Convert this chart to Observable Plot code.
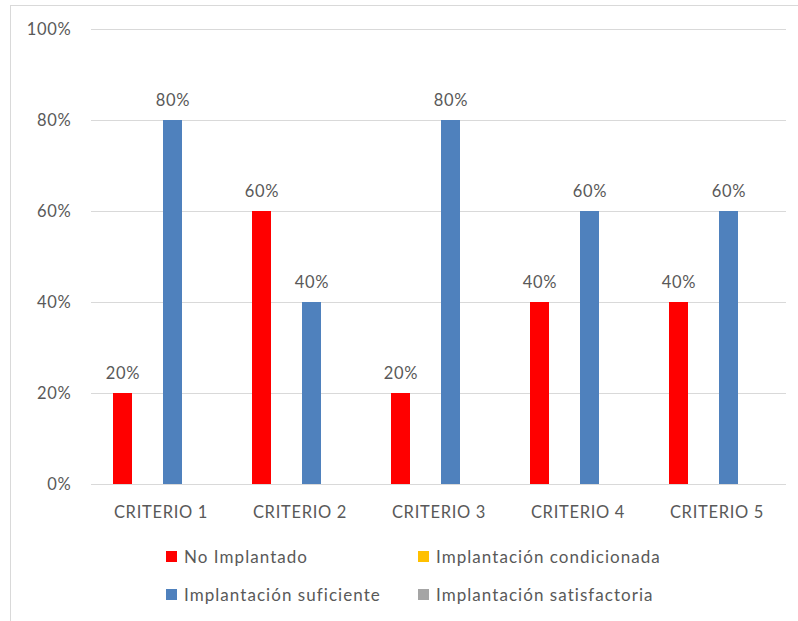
<!DOCTYPE html>
<html>
<head>
<meta charset="utf-8">
<script src="https://cdn.jsdelivr.net/npm/d3@7"></script>
<script src="https://cdn.jsdelivr.net/npm/@observablehq/plot@0.6"></script>
<style>
  html, body { margin: 0; padding: 0; background: #fff; }
  #wrap { position: relative; width: 798px; height: 621px; overflow: hidden; font-family: Lato, sans-serif; color: #595959; }
  #frame { position: absolute; left: 10px; top: 5px; width: 820px; height: 700px; border: 1px solid #d9d9d9; box-sizing: border-box; }
  #chart { position: absolute; left: 0; top: 0; }
  #legend { position: absolute; left: 166px; top: 544px; display: grid; grid-template-columns: 252px 260px; grid-auto-rows: 38px; font-size: 17px; letter-spacing: 1.05px; }
  .item { display: flex; align-items: center; height: 24px; white-space: nowrap; }
  .sw { width: 11px; height: 11px; margin-right: 7px; flex: none; }
</style>
</head>
<body>
<div id="wrap">
  <div id="frame"></div>
  <div id="chart"></div>
  <div id="legend"></div>
</div>
<script>
const categories = ["CRITERIO 1", "CRITERIO 2", "CRITERIO 3", "CRITERIO 4", "CRITERIO 5"];
const series = ["No Implantado", "Implantación condicionada", "Implantación suficiente", "Implantación satisfactoria"];
const noImplantado = [0.2, 0.6, 0.2, 0.4, 0.4];
const implantacionCondicionada = [0, 0, 0, 0, 0];
const implantacionSuficiente = [0.8, 0.4, 0.8, 0.6, 0.6];
const implantacionSatisfactoria = [0, 0, 0, 0, 0];
const seriesColors = ["#FF0000", "#FFC000", "#4F81BD", "#A5A5A5"];
const yTicks = [0, 0.2, 0.4, 0.6, 0.8, 1];

const seriesValues = [noImplantado, implantacionCondicionada, implantacionSuficiente, implantacionSatisfactoria];
const data = [];
categories.forEach((cat, i) => {
  series.forEach((s, j) => {
    data.push({cat, series: s, value: seriesValues[j][i]});
  });
});
const pct = d3.format(".0%");

const chart = Plot.plot({
  width: 798,
  height: 530,
  marginLeft: 90,
  marginRight: 12,
  marginTop: 29,
  marginBottom: 46,
  style: "font-family: Lato, sans-serif; font-size: 16.5px; letter-spacing: 0.7px; color: #595959; background: transparent; overflow: visible;",
  fx: {domain: categories, padding: 0, axis: "bottom", tickSize: 0, tickPadding: 22, label: null},
  x: {domain: series, paddingInner: 0.228, paddingOuter: 0.87, axis: null},
  y: {domain: [0, 1], ticks: yTicks, tickFormat: pct, tickSize: 0, tickPadding: 20, label: null},
  color: {domain: series, range: seriesColors},
  marks: [
    Plot.gridY(yTicks, {stroke: "#d9d9d9", strokeOpacity: 1, strokeWidth: 1.2}),
    Plot.barY(data, {fx: "cat", x: "series", y: "value", fill: "series"}),
    Plot.text(data.filter(d => d.value > 0), {
      fx: "cat", x: "series", y: "value",
      text: d => pct(d.value),
      dy: -20,
      fill: "#595959"
    })
  ]
});
document.getElementById("chart").appendChild(chart);

const legend = document.getElementById("legend");
const legendOrder = [0, 1, 2, 3];
legendOrder.forEach(j => {
  const item = document.createElement("div");
  item.className = "item";
  const sw = document.createElement("span");
  sw.className = "sw";
  sw.style.background = seriesColors[j];
  const label = document.createElement("span");
  label.textContent = series[j];
  item.appendChild(sw);
  item.appendChild(label);
  legend.appendChild(item);
});
</script>
</body>
</html>
